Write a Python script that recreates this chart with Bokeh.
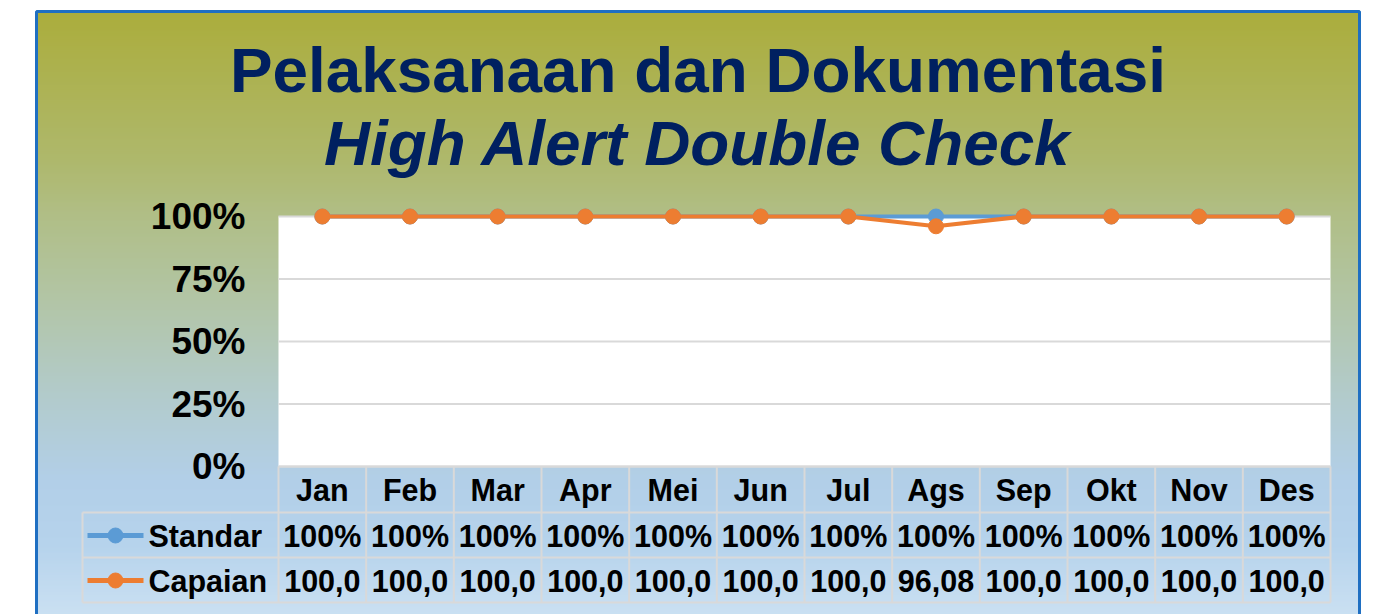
from bokeh.plotting import figure
from bokeh.models import Range1d, ColumnDataSource
from bokeh.core.properties import value
from bokeh.embed import file_html
from bokeh.resources import INLINE

# ---------------- data ----------------
months = ["Jan", "Feb", "Mar", "Apr", "Mei", "Jun", "Jul", "Ags", "Sep", "Okt", "Nov", "Des"]
standar = [100, 100, 100, 100, 100, 100, 100, 100, 100, 100, 100, 100]
capaian = [100, 100, 100, 100, 100, 100, 100, 96.08, 100, 100, 100, 100]
y_ticks = [0, 25, 50, 75, 100]
series_names = ["Standar", "Capaian"]
title_line1 = "Pelaksanaan dan Dokumentasi"
title_line2 = "High Alert Double Check"

# ---------------- layout helpers (pixel -> data) ----------------
W, H = 1370, 614
OX, OY = 0, 0                      # observed placement of the canvas
PL, PR = 278, 1330                 # plot area left/right (page px)
P0, P100 = 466, 216                # y px of 0% and 100%
CW = (PR - PL) / len(months)
YS = (P0 - P100) / 100.0

def XD(px):
    return (px - PL) / CW

def YD(py):
    return (P0 - py) / YS

FONT = value("Liberation Sans")
BLUE = "#5B9BD5"
ORANGE = "#ED7D31"
GRID = "#D9D9D9"
NAVY = "#002060"

p = figure(width=W, height=H, output_backend="svg", toolbar_location=None,
           title=None, x_axis_location=None, y_axis_location=None,
           x_range=Range1d(XD(OX), XD(OX + W)), y_range=Range1d(YD(OY + H), YD(OY)),
           min_border=0)
p.grid.visible = False
p.outline_line_color = None
p.background_fill_color = "white"
p.border_fill_color = "white"

# ---------------- gradient background of the chart box ----------------
stops = [(11, (171, 173, 60)), (160, (174, 184, 108)), (215, (176, 190, 134)),
         (300, (178, 197, 166)), (400, (178, 203, 205)), (480, (178, 207, 232)),
         (545, (182, 211, 236)), (614, (202, 224, 242))]

def grad(py):
    for (a, ca), (b, cb) in zip(stops[:-1], stops[1:]):
        if a <= py <= b:
            t = (py - a) / (b - a)
            return "#%02x%02x%02x" % tuple(int(round(ca[i] + (cb[i] - ca[i]) * t)) for i in range(3))
    return "#%02x%02x%02x" % stops[-1][1]

BX0, BX1, BY0 = 36, 1359, 11
tops, bots, cols = [], [], []
py = BY0
while py < OY + H:
    tops.append(YD(py))
    bots.append(YD(py + 2.8))
    cols.append(grad(py + 1))
    py += 2
p.quad(left=XD(BX0), right=XD(BX1), top=tops, bottom=bots, fill_color=cols, line_color=None)
p.quad(left=XD(BX0), right=XD(BX1), top=YD(BY0), bottom=YD(640), fill_alpha=0,
       line_color="#1F6FC2", line_width=3)

# ---------------- plot area ----------------
n = len(months)
p.quad(left=0, right=n, top=100, bottom=0, fill_color="white", line_color=None)
p.segment(x0=[0] * len(y_ticks), x1=[n] * len(y_ticks), y0=y_ticks, y1=y_ticks,
          line_color=GRID, line_width=2)

# y tick labels
p.text(x=[XD(245)] * len(y_ticks), y=y_ticks, text=["%d%%" % t for t in y_ticks],
       text_font=FONT, text_font_style="bold", text_font_size="37px",
       text_align="right", text_baseline="middle", text_color="black")

# ---------------- series ----------------
xs = [i + 0.5 for i in range(n)]
src = ColumnDataSource(dict(x=xs, standar=standar, capaian=capaian))
p.line("x", "standar", source=src, line_color=BLUE, line_width=4)
p.scatter("x", "standar", source=src, size=15, marker="circle", fill_color=BLUE, line_color=BLUE)
p.line("x", "capaian", source=src, line_color=ORANGE, line_width=4)
p.scatter("x", "capaian", source=src, size=15, marker="circle", fill_color=ORANGE, line_color=ORANGE)

# ---------------- data table ----------------
R0, R1, R2, R3 = 466, 512, 557, 602
LX = 82
# horizontal rules
p.segment(x0=[0, XD(LX), XD(LX), XD(LX)], x1=[n] * 4,
          y0=[YD(R0), YD(R1), YD(R2), YD(R3)], y1=[YD(R0), YD(R1), YD(R2), YD(R3)],
          line_color=GRID, line_width=2)
# vertical rules
vx = list(range(n + 1))
p.segment(x0=vx, x1=vx, y0=[YD(R0)] * len(vx), y1=[YD(R3)] * len(vx),
          line_color=GRID, line_width=2)
p.segment(x0=[XD(LX)], x1=[XD(LX)], y0=[YD(R1)], y1=[YD(R3)], line_color=GRID, line_width=2)

cell_font = dict(text_font=FONT, text_font_style="bold", text_font_size="30.5px",
                 text_color="black", text_baseline="middle")
p.text(x=xs, y=[YD((R0 + R1) / 2)] * n, text=months, text_align="center", **cell_font)
p.text(x=xs, y=[YD((R1 + R2) / 2 + 0.5)] * n, text=["%d%%" % v for v in standar],
       text_align="center", **cell_font)
cap_txt = [(("%.1f" % v) if v >= 100 else ("%.2f" % v)).replace(".", ",") for v in capaian]
p.text(x=xs, y=[YD((R2 + R3) / 2 + 0.5)] * n, text=cap_txt, text_align="center", **cell_font)

# legend keys in the table
ry = [YD((R1 + R2) / 2 + 0.5), YD((R2 + R3) / 2 + 0.5)]
for yy, c in zip(ry, [BLUE, ORANGE]):
    p.segment(x0=[XD(87)], x1=[XD(143)], y0=[yy], y1=[yy], line_color=c, line_width=5)
    p.scatter(x=[XD(115)], y=[yy], size=15, marker="circle", fill_color=c, line_color=c)
p.text(x=[XD(148)] * 2, y=ry, text=series_names, text_align="left", **cell_font)

# ---------------- title ----------------
cx = XD((BX0 + BX1) / 2)
p.text(x=[cx], y=[YD(69.5)], text=[title_line1], text_font=FONT, text_font_style="bold",
       text_font_size="63.8px", text_color=NAVY, text_align="center", text_baseline="middle")
p.text(x=[cx], y=[YD(142.5)], text=[title_line2], text_font=FONT, text_font_style="bold italic",
       text_font_size="63.8px", text_color=NAVY, text_align="center", text_baseline="middle")

open("out.html", "w").write(file_html(p, INLINE))
